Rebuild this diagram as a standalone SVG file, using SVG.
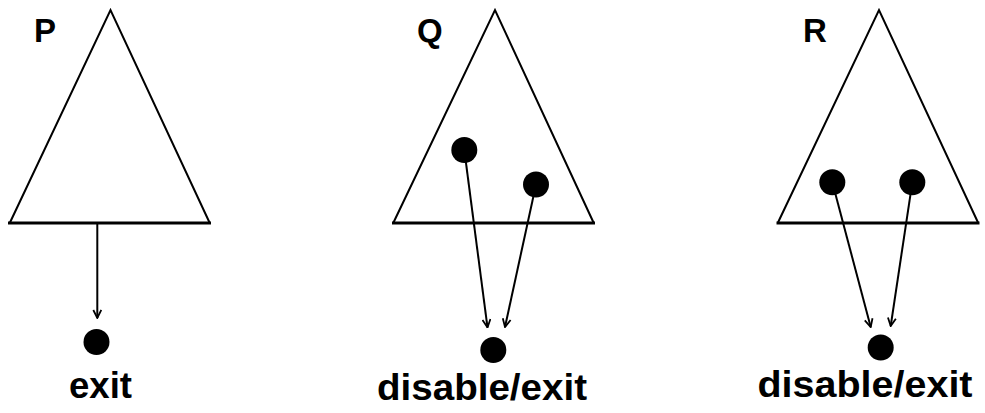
<svg xmlns="http://www.w3.org/2000/svg" width="985" height="413" viewBox="0 0 985 413">
<style>
.tri{fill:none;stroke:#000;stroke-width:2;stroke-linejoin:miter}
.base{stroke:#000;stroke-width:3}
.dot{fill:#000}
.lbl{font-family:"Liberation Sans",Arial,sans-serif;font-weight:bold;fill:#000}
.name{font-size:33px}
.cap{font-size:37px}
.edge{stroke:#000;stroke-width:2;fill:none;marker-end:url(#arr)}
</style>
<defs>
<marker id="arr" viewBox="0 0 10 10" refX="9" refY="5" markerWidth="10" markerHeight="10" markerUnits="userSpaceOnUse" orient="auto">
<path d="M1,1 L9,5 L1,9" fill="none" stroke="#000" stroke-width="1.8"/>
</marker>
</defs>
<rect width="985" height="413" fill="#fff"/>
<g id="P">
<path class="tri" d="M10,222.5 L110.5,10 L209.5,222.5"/>
<line class="base" x1="8" y1="223" x2="211" y2="223"/>
<text class="lbl name" x="34" y="42">P</text>
</g>
<g id="P-exit">
<circle class="dot" cx="96.5" cy="342" r="13"/>
<text class="lbl cap" x="100.5" y="398" text-anchor="middle" textLength="63" lengthAdjust="spacingAndGlyphs">exit</text>
</g>
<g id="Q">
<path class="tri" d="M393.5,222.5 L495,10 L593.5,222.5"/>
<line class="base" x1="392" y1="223" x2="595" y2="223"/>
<text class="lbl name" x="417" y="42">Q</text>
<circle class="dot" cx="464.3" cy="150" r="13"/>
<circle class="dot" cx="536" cy="184.5" r="13"/>
</g>
<g id="Q-exit">
<circle class="dot" cx="493.3" cy="350" r="13"/>
<text class="lbl cap" x="482" y="400" text-anchor="middle" textLength="210" lengthAdjust="spacingAndGlyphs">disable/exit</text>
</g>
<g id="R">
<path class="tri" d="M778,222.5 L879,10 L978,222.5"/>
<line class="base" x1="776.5" y1="223" x2="979.5" y2="223"/>
<text class="lbl name" x="803" y="42">R</text>
<circle class="dot" cx="832.3" cy="182.3" r="13"/>
<circle class="dot" cx="912.3" cy="182.3" r="13"/>
</g>
<g id="R-exit">
<circle class="dot" cx="880.7" cy="347.5" r="13"/>
<text class="lbl cap" x="865" y="397" text-anchor="middle" textLength="215" lengthAdjust="spacingAndGlyphs">disable/exit</text>
</g>
<g id="connectors">
<line class="edge" x1="97.3" y1="224" x2="97.3" y2="318"/>
<line class="edge" x1="464.3" y1="150" x2="487.5" y2="327.5"/>
<line class="edge" x1="536" y1="184.5" x2="505" y2="327"/>
<line class="edge" x1="832.3" y1="182.3" x2="870.7" y2="327"/>
<line class="edge" x1="912.3" y1="182.3" x2="890.7" y2="326"/>
</g>
</svg>
